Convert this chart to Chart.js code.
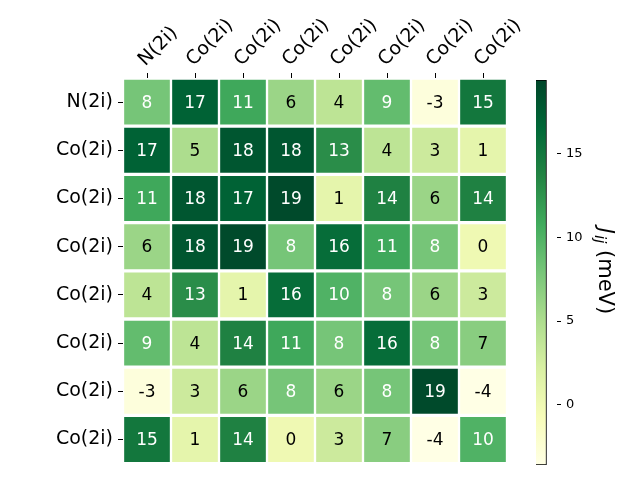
<!DOCTYPE html>
<html>
<head>
<meta charset="utf-8">
<script src="https://cdn.jsdelivr.net/npm/chart.js@4/dist/chart.umd.min.js"></script>
<style>
  html, body { margin: 0; padding: 0; background: #fff; }
  #wrap { position: relative; width: 640px; height: 480px; }
  #main { position: absolute; left: 0; top: 0; }
  #cbar { position: absolute; left: 500px; top: 0; }
</style>
</head>
<body>
<div id="wrap">
  <canvas id="main" width="640" height="480"></canvas>
  <canvas id="cbar" width="140" height="480"></canvas>
</div>
<script>
// ---- data ----
const colLabels = ['N(2i)', 'Co(2i)', 'Co(2i)', 'Co(2i)', 'Co(2i)', 'Co(2i)', 'Co(2i)', 'Co(2i)'];
const rowLabels = ['N(2i)', 'Co(2i)', 'Co(2i)', 'Co(2i)', 'Co(2i)', 'Co(2i)', 'Co(2i)', 'Co(2i)'];
const row0 = [8, 17, 11, 6, 4, 9, -3, 15];
const row1 = [17, 5, 18, 18, 13, 4, 3, 1];
const row2 = [11, 18, 17, 19, 1, 14, 6, 14];
const row3 = [6, 18, 19, 8, 16, 11, 8, 0];
const row4 = [4, 13, 1, 16, 10, 8, 6, 3];
const row5 = [9, 4, 14, 11, 8, 16, 8, 7];
const row6 = [-3, 3, 6, 8, 6, 8, 19, -4];
const row7 = [15, 1, 14, 0, 3, 7, -4, 10];
const matrix = [row0, row1, row2, row3, row4, row5, row6, row7];
const vmin = -3.6;
const vmax = 19.4;
const cbTicks = [0, 5, 10, 15];
const cbLabelMain = 'J';
const cbLabelSub = 'ij';
const cbLabelUnit = ' (meV)';

// ---- colormap (YlGn) ----
const ylgn = ['#ffffe5', '#f7fcb9', '#d9f0a3', '#addd8e', '#78c679', '#41ab5d', '#238443', '#006837', '#004529'];
function hex2rgb(h) { return [parseInt(h.slice(1, 3), 16), parseInt(h.slice(3, 5), 16), parseInt(h.slice(5, 7), 16)]; }
const ylgnRGB = ylgn.map(hex2rgb);
function cmap(t) {
  t = Math.max(0, Math.min(1, t));
  const p = t * (ylgnRGB.length - 1);
  const i = Math.min(Math.floor(p), ylgnRGB.length - 2);
  const f = p - i;
  const a = ylgnRGB[i], b = ylgnRGB[i + 1];
  const c = a.map((v, k) => Math.round(v + (b[k] - v) * f));
  return 'rgb(' + c.join(',') + ')';
}
function norm(v) { return (v - vmin) / (vmax - vmin); }

Chart.defaults.font.family = 'DejaVu Sans';
Chart.defaults.color = '#000';

const FONT_LBL = 19;

const datasets = colLabels.map((_, c) => ({
  label: 'col' + c,
  data: matrix.map(() => [c, c + 1]),
  backgroundColor: matrix.map(row => cmap(norm(row[c]))),
  borderColor: '#ffffff',
  borderWidth: { top: 2, bottom: 2, left: 1.5, right: 1.5 },
  borderSkipped: false,
  barPercentage: 1,
  categoryPercentage: 1,
  grouped: false,
  xAxisID: 'x',
  yAxisID: 'y'
}));

const cellText = {
  id: 'cellText',
  afterDatasetsDraw(chart) {
    const ctx = chart.ctx;
    ctx.save();
    ctx.font = '17px DejaVu Sans';
    ctx.textAlign = 'center';
    ctx.textBaseline = 'middle';
    chart.data.datasets.forEach((ds, c) => {
      const meta = chart.getDatasetMeta(c);
      meta.data.forEach((bar, r) => {
        const v = matrix[r][c];
        const p = bar.getCenterPoint();
        ctx.fillStyle = norm(v) > 0.5 ? '#ffffff' : '#000000';
        ctx.fillText(String(v), p.x, p.y + 1);
      });
    });
    ctx.restore();
  }
};

new Chart(document.getElementById('main'), {
  type: 'bar',
  data: { labels: rowLabels, datasets },
  options: {
    responsive: false,
    animation: false,
    indexAxis: 'y',
    layout: { padding: { left: 0, right: 133, top: 0, bottom: 14 } },
    plugins: { legend: { display: false }, tooltip: { enabled: false } },
    scales: {
      x: { type: 'linear', min: 0, max: 8, display: false },
      x2: {
        type: 'category',
        labels: colLabels,
        position: 'top',
        offset: true,
        grid: { offset: false, drawOnChartArea: false, drawTicks: true, tickLength: 5, color: '#000', lineWidth: 1 },
        border: { display: false },
        ticks: { autoSkip: false, minRotation: 45, maxRotation: 45, padding: 2, labelOffset: 11, font: { size: FONT_LBL }, color: '#000' },
        afterFit(scale) { scale.height = 78; }
      },
      y: {
        type: 'category',
        offset: true,
        grid: { offset: false, drawOnChartArea: false, drawTicks: true, tickLength: 5, color: '#000', lineWidth: 1 },
        border: { display: false },
        ticks: { autoSkip: false, padding: 5, font: { size: FONT_LBL }, color: '#000' },
        afterFit(scale) { scale.width = 123; }
      }
    }
  },
  plugins: [cellText]
});

// ---- colorbar ----
const cbLabel = {
  id: 'cbLabel',
  afterDraw(chart) {
    const ctx = chart.ctx;
    ctx.save();
    const area = chart.chartArea;
    const cy = (area.top + area.bottom) / 2 - 2;
    ctx.translate(104, cy);
    ctx.rotate(Math.PI / 2);
    const fMain = 'italic 21px DejaVu Sans';
    const fSub = 'italic 15px DejaVu Sans';
    const fUnit = '21px DejaVu Sans';
    ctx.font = fMain; const w1 = ctx.measureText(cbLabelMain).width;
    ctx.font = fSub; const w2 = ctx.measureText(cbLabelSub).width;
    ctx.font = fUnit; const w3 = ctx.measureText(cbLabelUnit).width;
    let x = -(w1 + w2 + w3) / 2;
    ctx.fillStyle = '#000';
    ctx.textBaseline = 'middle';
    ctx.textAlign = 'left';
    ctx.font = fMain; ctx.fillText(cbLabelMain, x, 0); x += w1 + 1;
    ctx.font = fSub; ctx.fillText(cbLabelSub, x, 5); x += w2;
    ctx.font = fUnit; ctx.fillText(cbLabelUnit, x, 0);
    ctx.restore();
  }
};

new Chart(document.getElementById('cbar'), {
  type: 'bar',
  data: {
    labels: [''],
    datasets: [{
      data: [[vmin, vmax]],
      backgroundColor(ctx) {
        const chart = ctx.chart;
        const area = chart.chartArea;
        if (!area) return '#ffffff';
        const ys = chart.scales.y;
        const g = chart.ctx.createLinearGradient(0, ys.getPixelForValue(vmin), 0, ys.getPixelForValue(vmax));
        ylgn.forEach((col, i) => g.addColorStop(i / (ylgn.length - 1), col));
        return g;
      },
      borderColor: '#000',
      borderWidth: 1,
      borderSkipped: false,
      barPercentage: 1,
      categoryPercentage: 1
    }]
  },
  options: {
    responsive: false,
    animation: false,
    layout: { padding: { left: 36, right: 0, top: 80, bottom: 15 } },
    plugins: { legend: { display: false }, tooltip: { enabled: false } },
    scales: {
      x: { display: false, offset: false },
      y: {
        type: 'linear',
        position: 'right',
        min: vmin,
        max: vmax,
        afterBuildTicks(axis) { axis.ticks = cbTicks.map(v => ({ value: v })); },
        grid: { drawOnChartArea: false, drawTicks: true, tickLength: 4, color: '#000', lineWidth: 1 },
        border: { display: false },
        ticks: { padding: 5, font: { size: 13 }, color: '#000' },
        afterFit(scale) { scale.width = 83; }
      }
    }
  },
  plugins: [cbLabel]
});
</script>
</body>
</html>
